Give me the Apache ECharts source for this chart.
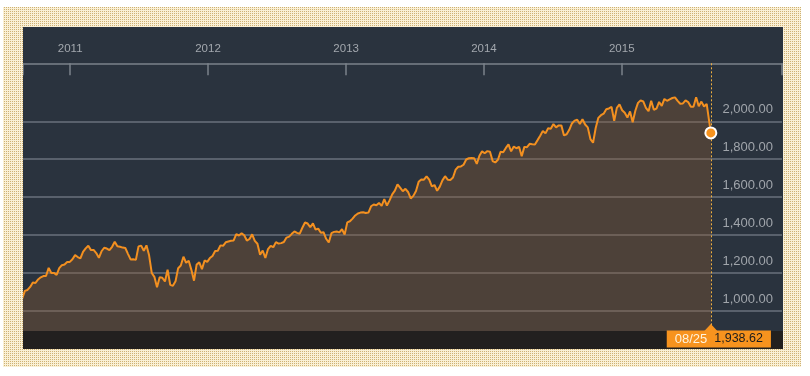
<!DOCTYPE html>
<html>
<head>
<meta charset="utf-8">
<script src="https://cdn.jsdelivr.net/npm/echarts@6.0.0/dist/echarts.min.js"></script>
<style>
    html, body { margin: 0; padding: 0; background: #fff; }
    #frame {
        position: absolute; left: 3px; top: 7px; width: 798px; height: 360px;
        background: conic-gradient(#cfb273 0 25%, #faf0d6 0 100%) 0 0 / 2px 2px;
    }
    #chart { position: absolute; left: 23px; top: 27px; width: 760px; height: 322px; }
</style>
</head>
<body>
<div id="frame"></div>
<div id="chart"></div>
<script>
    // weekly closes, first one on Friday 2010-08-27, then every 7 days
    var firstWeek = [2010, 7, 27];
    var weekly2010 = [1064.59, 1104.51, 1109.55, 1125.59, 1148.67, 1146.24, 1165.15, 1176.19, 1183.08, 1183.26,
        1225.85, 1199.21, 1199.73, 1189.40, 1224.71, 1240.40, 1243.91, 1256.77, 1257.64];
    var weekly2011 = [1271.50, 1293.24, 1283.35, 1276.34, 1310.87, 1329.15, 1343.01, 1319.88, 1321.15, 1304.28,
        1279.20, 1313.80, 1332.41, 1328.17, 1319.68, 1337.38, 1363.61, 1340.20, 1337.77, 1333.27,
        1331.10, 1300.16, 1270.98, 1271.50, 1268.45, 1339.67, 1343.80, 1316.14, 1345.02, 1292.28,
        1199.38, 1178.81, 1123.53, 1176.80, 1173.97, 1154.23, 1216.01, 1136.43, 1131.42, 1155.46,
        1224.58, 1238.25, 1285.09, 1253.23, 1263.85, 1215.65, 1158.67, 1244.28, 1255.19, 1219.66,
        1265.33, 1257.60];
    var weekly2012 = [1277.81, 1289.09, 1315.38, 1316.33, 1344.90, 1342.64, 1361.23, 1365.74, 1369.63, 1370.87,
        1404.17, 1397.11, 1408.47, 1398.08, 1370.26, 1378.53, 1403.36, 1369.10, 1353.39, 1295.22,
        1317.82, 1278.04, 1325.66, 1342.84, 1335.02, 1362.16, 1354.68, 1356.78, 1362.66, 1385.97,
        1390.99, 1405.87, 1418.16, 1411.13, 1406.58, 1437.92, 1465.77, 1460.15, 1440.67, 1460.93,
        1428.59, 1433.19, 1411.94, 1414.20, 1379.85, 1359.88, 1409.15, 1416.18, 1418.07, 1413.58,
        1430.15, 1402.43];
    var weekly2013 = [1466.47, 1472.05, 1485.98, 1502.96, 1513.17, 1517.93, 1519.79, 1515.60, 1518.20, 1551.18,
        1560.70, 1556.89, 1569.19, 1553.28, 1588.85, 1555.25, 1582.24, 1614.42, 1633.70, 1667.47,
        1649.60, 1630.74, 1643.38, 1626.73, 1592.43, 1606.28, 1631.89, 1680.19, 1692.09, 1691.65,
        1709.67, 1691.42, 1655.83, 1663.50, 1632.97, 1655.17, 1687.99, 1709.91, 1691.75, 1690.50,
        1703.20, 1744.50, 1759.77, 1761.64, 1770.61, 1798.18, 1804.76, 1805.81, 1805.09, 1775.32,
        1818.32, 1841.40];
    var weekly2014 = [1831.37, 1842.37, 1838.70, 1790.29, 1782.59, 1797.02, 1838.63, 1836.25, 1859.45, 1878.04,
        1841.13, 1866.52, 1857.62, 1865.09, 1815.69, 1864.85, 1863.40, 1881.14, 1878.48, 1877.86,
        1900.53, 1923.57, 1949.44, 1936.16, 1962.87, 1960.96, 1985.44, 1967.57, 1978.22, 1978.34,
        1925.15, 1931.59, 1955.06, 1988.40, 2003.37, 2007.71, 1985.54, 2010.40, 1982.85, 1967.90,
        1906.13, 1886.76, 1964.58, 2018.05, 2031.92, 2039.82, 2063.50, 2067.56, 2075.37, 2002.33,
        2070.65, 2088.77];
    var weekly2015 = [2058.20, 2044.81, 2019.42, 2051.82, 1994.99, 2055.47, 2096.99, 2110.30, 2104.50, 2071.26,
        2053.40, 2108.10, 2061.02, 2066.96, 2102.06, 2081.18, 2117.69, 2108.29, 2116.10, 2122.73,
        2126.06, 2107.39, 2092.83, 2094.11, 2109.99, 2101.49, 2076.78, 2076.62, 2126.64, 2079.65,
        2103.84, 2077.57, 2091.54];
    var lastDate = [2015, 7, 25];
    var lastValue = 1938.62;

    var yearTicks = [2011, 2012, 2013, 2014, 2015];
    var xStart = [2010, 7, 29];
    var xEnd = [2016, 1, 29, 12];
    var yMin = 800, yMax = 2400, yStep = 200;
    var yLabelFrom = 1000, yLabelTo = 2000;
    var plotTop = 2306;     // value level of the top axis line
    var plotBottom = 893;   // value level where the dark bottom strip starts

    function t(d) {
        return +new Date(d[0], d[1], d[2], d[3] || 0);
    }
    function money(v) {
        var p = v.toFixed(2).split('.');
        return p[0].replace(/\B(?=(\d{3})+(?!\d))/g, ',') + '.' + p[1];
    }
    function pad(n) { return (n < 10 ? '0' : '') + n; }

    var weekly = [].concat(weekly2010, weekly2011, weekly2012, weekly2013, weekly2014, weekly2015);
    var seriesData = weekly.map(function(v, i) {
        return [+new Date(firstWeek[0], firstWeek[1], firstWeek[2] + 7 * i), v];
    });
    seriesData.push([t(lastDate), lastValue]);

    var yearTimes = yearTicks.map(function(y) { return +new Date(y, 0, 1); });

    // split line colours: only 1,000 .. 2,000 are drawn
    var splitColors = [];
    for (var v = yMin; v <= yMax; v += yStep) {
        splitColors.push(v >= yLabelFrom && v <= yLabelTo ? '#6a727c' : 'rgba(0,0,0,0)');
    }

    var orange = '#f7931e';
    var chart = echarts.init(document.getElementById('chart'));

    var option = {
        backgroundColor: '#2a333e',
        animation: false,
        textStyle: { fontFamily: 'Liberation Sans, Arial, sans-serif' },
        grid: { left: 0, right: 1, top: 18.5, height: 303.1 },
        xAxis: {
            type: 'value',
            position: 'top',
            offset: -17.8,
            min: t(xStart),
            max: t(xEnd),
            axisLine: { lineStyle: { color: '#7b828b', width: 1.5 } },
            axisTick: {
                inside: true,
                length: 12,
                customValues: [t(xStart)].concat(yearTimes, [t(xEnd)]),
                lineStyle: { color: '#7b828b', width: 1.5 }
            },
            axisLabel: {
                customValues: yearTimes,
                formatter: function(v) { return String(new Date(v).getFullYear()); },
                color: '#a3a8ae',
                fontSize: 11.5,
                margin: 8
            },
            splitLine: { show: false }
        },
        yAxis: {
            type: 'value',
            position: 'right',
            min: yMin,
            max: yMax,
            interval: yStep,
            axisLine: { show: false },
            axisTick: { show: false },
            axisLabel: {
                inside: true,
                margin: 9,
                verticalAlign: 'bottom',
                padding: [0, 0, 5, 0],
                color: '#a0a5ab',
                fontSize: 13,
                formatter: function(v) {
                    return v >= yLabelFrom && v <= yLabelTo ? money(v) : '';
                }
            },
            splitLine: { lineStyle: { color: splitColors, width: 1.5 } }
        },
        graphic: [{
            type: 'rect',
            left: 0,
            bottom: 0,
            z: 4,
            shape: { width: 760, height: 18 },
            style: { fill: '#22201f' }
        }],
        series: [{
            type: 'line',
            data: seriesData,
            showSymbol: false,
            silent: true,
            lineStyle: { color: '#f39020', width: 2 },
            areaStyle: { color: 'rgba(140,92,50,0.36)', opacity: 1, origin: plotBottom },
            markLine: {
                silent: true,
                symbol: 'none',
                label: { show: false },
                lineStyle: { color: '#f0b040', type: [2, 2], width: 1, opacity: 1 },
                data: [[{ coord: [t(lastDate), plotTop] }, { coord: [t(lastDate), plotBottom] }]]
            },
            markPoint: {
                silent: true,
                data: [{
                    coord: [t(lastDate), lastValue],
                    symbol: 'circle',
                    symbolSize: 11,
                    itemStyle: { color: orange, borderColor: '#fff', borderWidth: 2 },
                    label: { show: false }
                }, {
                    coord: [t(lastDate), plotBottom],
                    symbol: 'triangle',
                    symbolSize: [13, 7],
                    symbolOffset: [0, -3.5],
                    itemStyle: { color: orange },
                    label: {
                        show: true,
                        position: 'inside',
                        offset: [8, 11.5],
                        formatter: '{a|' + pad(lastDate[1] + 1) + '/' + pad(lastDate[2]) + '}{b|' + money(lastValue) + '}',
                        backgroundColor: orange,
                        padding: [2, 8, 2, 8],
                        rich: {
                            a: { color: '#fff3dd', fontSize: 13, padding: [0, 7, 0, 0] },
                            b: { color: '#1c1c1c', fontSize: 12.5 }
                        }
                    }
                }]
            }
        }]
    };

    chart.setOption(option);
</script>
</body>
</html>
